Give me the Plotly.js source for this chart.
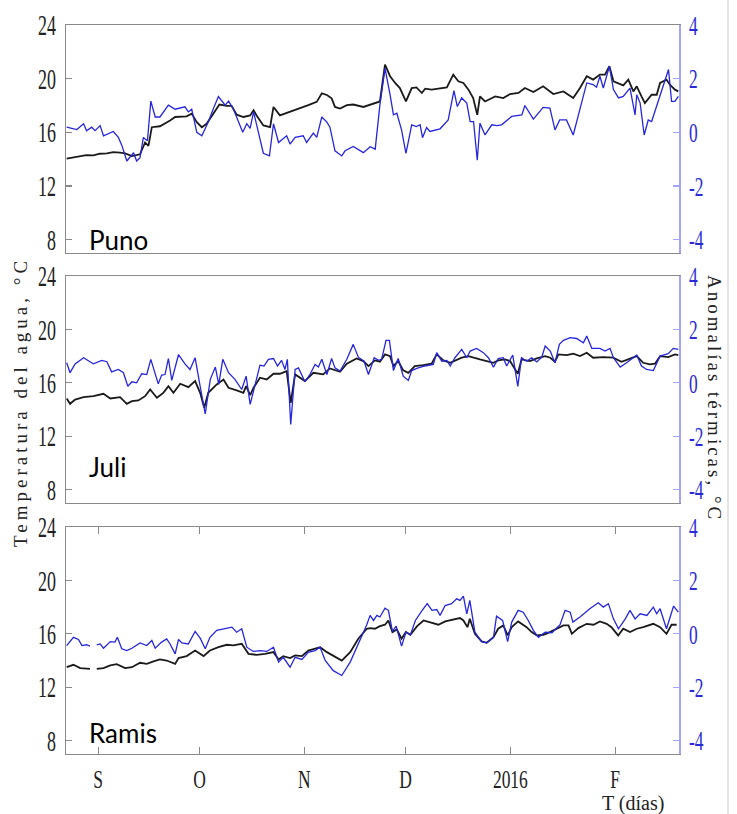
<!DOCTYPE html>
<html>
<head>
<meta charset="utf-8">
<script src="https://cdn.plot.ly/plotly-3.0.1.min.js"></script>
<style>
  html, body { margin: 0; padding: 0; background: #fff; }
  #chart { width: 737px; height: 814px; }
</style>
</head>
<body>
<div id="chart"></div>
<script>
// Day offsets counted from 1 September 2015 (x), value (y)
const punoTemp = [[-9.3,14.03],[-7.5,14.1],[-5.3,14.18],[-3.5,14.3],[-1.4,14.28],[0.5,14.4],[2.6,14.43],[4.5,14.52],[6.5,14.48],[8.0,14.43],[10.0,14.23],[12.4,14.36],[13.9,15.24],[14.9,14.99],[15.9,16.38],[18.3,16.45],[21.3,16.88],[22.8,17.14],[26.2,17.19],[27.7,17.39],[29.2,16.76],[30.7,16.38],[32.1,16.63],[34.1,17.39],[35.9,18.07],[38.1,17.97],[39.5,17.97],[41.0,17.31],[43.0,17.14],[45.0,17.26],[46.0,17.64],[46.9,17.26],[48.9,16.51],[50.9,16.38],[51.9,17.89],[53.8,17.26],[56.8,17.52],[59.8,17.82],[62.2,18.02],[64.7,18.27],[66.2,18.90],[67.7,18.78],[69.1,18.53],[70.1,17.89],[71.6,17.77],[73.6,18.02],[75.5,18.07],[78.5,17.89],[80.5,18.05],[83.4,18.3],[84.9,21.05],[86.4,20.18],[87.9,19.68],[89.3,19.3],[91.1,18.3],[92.8,19.3],[94.2,19.35],[95.8,18.93],[96.8,19.25],[98.7,19.18],[103.2,19.35],[105.1,20.3],[106.6,19.8],[108.1,19.68],[109.6,19.18],[111.0,18.55],[112.2,17.3],[113.0,18.68],[114.5,18.3],[117.5,18.68],[119.9,18.55],[121.9,18.85],[124.4,18.93],[126.3,19.3],[128.8,19.0],[131.7,19.43],[134.7,18.85],[137.7,19.05],[140.6,18.55],[142.6,19.3],[144.6,20.18],[146.5,19.93],[148.5,20.3],[150.0,20.3],[151.3,20.93],[152.5,19.8],[155.4,19.5],[156.9,19.93],[158.4,19.05],[159.4,19.43],[160.8,18.68],[161.8,18.18],[163.8,18.8],[165.3,18.8],[166.3,19.68],[168.2,19.93],[169.2,19.55],[170.7,19.18],[171.7,19.05]];
const punoAnom = [[-9.3,0.19],[-6.3,0.10],[-4.3,0.32],[-3.4,0.06],[-1.9,0.19],[-0.9,0.06],[0.6,0.25],[1.6,-0.13],[4.5,0.03],[6.0,-0.19],[7.0,-0.48],[8.5,-1.07],[10.5,-0.76],[11.4,-1.07],[12.4,-0.95],[13.4,-0.19],[14.6,-0.32],[15.6,1.16],[16.9,0.57],[18.3,0.57],[20.8,1.01],[22.8,0.86],[25.7,0.95],[26.7,0.76],[27.7,0.86],[29.2,0.0],[30.7,-0.13],[32.6,0.38],[34.1,0.88],[35.6,1.33],[37.6,1.01],[38.6,1.16],[40.0,0.88],[41.0,0.57],[42.8,0.0],[44.0,0.32],[45.0,0.15],[46.0,0.76],[47.4,0.06],[48.9,-0.78],[50.7,-0.88],[51.9,0.32],[53.4,-0.38],[55.8,-0.13],[56.8,-0.44],[58.3,-0.19],[60.7,-0.13],[61.7,-0.38],[63.7,-0.03],[64.7,-0.19],[66.2,0.57],[67.7,0.38],[68.6,0.19],[70.1,-0.69],[72.1,-0.88],[73.1,-0.69],[75.5,-0.53],[78.5,-0.76],[80.5,-0.54],[82.0,-0.63],[83.4,1.03],[84.9,2.38],[86.4,1.4],[87.4,0.65],[88.4,0.71],[89.8,0.09],[91.1,-0.79],[92.8,0.28],[94.2,0.21],[95.3,0.28],[96.0,-0.2],[97.2,0.18],[98.2,0.03],[101.2,0.13],[103.6,0.46],[105.3,1.55],[106.3,0.96],[107.6,1.28],[109.1,1.09],[110.1,0.4],[111.1,0.4],[112.2,-1.04],[113.0,0.34],[114.5,-0.1],[116.5,0.28],[118.0,0.25],[119.4,0.28],[122.4,0.59],[125.4,0.65],[126.3,1.0],[128.8,0.49],[131.7,0.93],[133.7,0.9],[135.2,0.09],[136.6,0.46],[138.6,0.46],[140.6,-0.1],[142.6,0.84],[144.6,1.84],[146.5,1.78],[147.5,1.68],[148.5,2.09],[149.5,1.65],[151.3,2.46],[152.5,1.59],[154.0,1.28],[155.4,1.34],[157.4,1.65],[158.9,0.65],[159.4,1.4],[160.4,1.09],[161.6,-0.1],[162.8,0.46],[163.8,0.4],[165.3,0.96],[166.8,1.53],[168.8,2.34],[169.7,1.15],[170.7,1.15],[171.7,1.34]];
const juliTemp = [[-9.3,14.83],[-8.3,14.43],[-6.8,14.75],[-4.3,14.93],[-1.4,15.0],[1.6,15.18],[3.6,14.83],[6.5,14.93],[8.5,14.43],[10.0,14.63],[11.9,14.68],[13.9,15.0],[15.4,15.5],[17.4,14.88],[19.3,15.25],[20.8,15.75],[22.3,15.25],[24.3,15.93],[26.7,15.68],[28.7,16.13],[30.2,15.25],[31.4,14.13],[32.6,15.25],[35.1,15.88],[37.1,16.25],[38.6,15.63],[41.0,15.43],[43.0,15.25],[43.8,15.75],[45.0,15.08],[46.0,15.63],[47.9,16.38],[49.9,16.25],[51.9,16.68],[53.8,16.68],[55.8,16.88],[57.0,14.5],[58.3,16.63],[61.2,16.13],[63.7,16.75],[66.6,16.63],[68.6,17.08],[71.6,16.83],[73.6,17.43],[76.5,17.83],[78.5,17.63],[80.0,17.25],[81.9,17.68],[83.4,17.58],[84.9,18.13],[86.4,18.0],[87.4,17.25],[88.8,17.63],[90.3,16.93],[91.8,16.75],[93.7,17.25],[96.2,17.33],[98.7,17.43],[100.2,18.13],[102.2,17.68],[104.2,17.5],[105.6,17.68],[107.6,17.88],[109.6,18.0],[111.0,17.88],[113.0,17.75],[115.0,17.63],[117.0,17.5],[118.4,17.68],[120.4,17.75],[121.9,17.63],[124.2,16.68],[125.3,17.75],[127.8,17.63],[129.8,17.83],[132.3,18.0],[133.8,17.88],[135.2,17.58],[136.2,18.13],[138.7,18.08],[140.6,18.18],[142.6,18.0],[144.6,18.25],[146.5,17.88],[149.5,17.93],[152.4,17.88],[154.9,17.58],[156.9,17.75],[159.4,18.0],[161.3,17.5],[163.3,17.38],[164.8,17.43],[166.3,18.0],[168.7,17.93],[170.7,18.13],[171.7,18.08]];
const juliAnom = [[-9.3,0.75],[-8.3,0.38],[-6.8,0.71],[-4.3,0.94],[-2.4,0.79],[-1.4,0.71],[1.1,0.84],[2.6,0.79],[4.0,0.41],[6.0,0.5],[7.5,0.38],[8.8,-0.13],[10.0,0.04],[11.4,0.0],[12.9,0.34],[14.4,0.31],[15.6,0.88],[17.8,-0.04],[18.8,0.29],[19.8,0.31],[20.8,0.91],[21.8,0.09],[23.8,1.06],[25.7,0.71],[27.2,0.5],[28.7,0.94],[30.2,-0.13],[31.7,-1.16],[33.2,0.13],[34.7,0.59],[35.7,-0.06],[36.9,0.88],[38.6,0.38],[40.5,0.13],[42.5,-0.25],[43.8,0.25],[45.0,-0.81],[46.4,-0.13],[47.9,0.66],[49.1,0.63],[50.4,0.88],[51.9,0.91],[53.1,0.63],[54.3,0.84],[55.3,0.5],[56.0,0.88],[57.0,-1.56],[58.3,0.5],[59.3,0.56],[61.2,0.04],[62.8,0.34],[64.2,0.69],[65.2,0.59],[66.2,0.88],[67.7,0.31],[69.1,0.91],[70.1,0.56],[71.6,0.44],[73.6,0.88],[75.5,1.44],[77.0,0.96],[78.7,0.81],[80.0,0.31],[81.7,0.94],[83.0,0.84],[83.9,0.88],[85.2,1.59],[86.2,1.59],[87.4,0.46],[88.8,0.91],[90.3,0.25],[91.8,0.09],[92.8,0.46],[94.3,0.54],[96.7,0.63],[99.2,0.69],[100.2,1.13],[101.7,0.81],[103.2,0.84],[104.2,0.63],[105.6,0.94],[107.6,1.25],[109.1,0.94],[110.1,1.19],[112.0,1.29],[114.0,1.13],[115.5,0.94],[117.0,0.59],[118.4,0.91],[119.9,0.94],[120.9,0.63],[122.7,1.04],[124.2,-0.13],[125.3,0.94],[126.8,0.81],[128.3,0.94],[129.8,0.78],[131.3,0.96],[132.3,1.38],[133.8,1.19],[135.2,0.75],[136.5,1.44],[137.7,1.59],[139.7,1.69],[141.6,1.66],[143.6,1.5],[144.6,1.75],[146.1,1.29],[148.5,1.29],[150.0,1.19],[151.5,1.29],[152.5,0.94],[154.5,0.59],[156.4,0.75],[159.4,1.04],[160.8,0.63],[162.3,0.5],[164.3,0.46],[166.3,1.0],[168.7,1.09],[170.2,1.29],[171.7,1.25]];
const ramisTemp = [[-9.3,13.5],[-7.3,13.68],[-5.3,13.43],[-2.4,13.38],[-1.4,null],[-0.4,13.38],[1.6,13.43],[3.6,13.63],[5.5,13.73],[8.0,13.43],[10.0,13.5],[12.4,13.83],[14.4,13.75],[16.4,13.93],[18.3,14.08],[20.3,14.0],[22.8,13.75],[23.8,14.18],[26.2,14.33],[28.7,14.75],[31.2,14.33],[33.1,14.75],[35.6,15.0],[38.1,15.18],[40.0,15.13],[42.5,15.25],[44.5,14.5],[46.9,14.43],[49.4,14.5],[51.9,14.63],[53.4,14.08],[54.8,14.33],[56.8,14.18],[58.3,14.38],[60.3,14.33],[62.2,14.75],[64.2,14.88],[65.7,15.0],[67.7,14.63],[69.6,14.38],[72.1,14.0],[74.6,14.63],[77.0,15.63],[79.5,16.38],[80.5,16.43],[81.9,16.38],[83.4,16.58],[84.9,16.68],[85.9,17.0],[87.1,16.13],[88.4,16.33],[89.8,15.63],[91.1,16.13],[92.4,15.93],[94.4,16.58],[96.3,17.0],[98.8,16.83],[100.7,16.68],[102.7,16.93],[105.1,17.08],[107.1,17.18],[108.1,17.0],[109.3,16.5],[110.0,17.13],[111.5,16.0],[113.5,15.43],[115.0,15.33],[117.0,15.75],[118.4,16.38],[119.9,16.63],[121.2,15.88],[122.4,16.5],[124.3,16.93],[126.8,16.5],[128.3,16.13],[129.8,15.88],[131.8,15.93],[133.7,16.13],[135.7,16.38],[137.7,16.63],[139.2,16.63],[140.2,16.0],[142.1,16.43],[144.6,16.75],[146.6,16.68],[148.5,16.93],[150.5,16.75],[151.9,16.5],[153.9,15.88],[155.4,16.38],[157.4,16.13],[159.4,16.38],[161.3,16.5],[164.3,16.75],[166.3,16.5],[168.2,16.0],[169.7,16.68],[171.2,16.68]];
const ramisAnom = [[-9.3,-0.44],[-7.3,-0.13],[-5.8,-0.21],[-4.8,-0.44],[-3.4,-0.41],[-2.4,-0.46],[-1.4,null],[-0.4,-0.41],[0.6,-0.38],[1.6,-0.54],[3.6,-0.29],[5.0,-0.31],[5.7,-0.13],[7.0,-0.56],[8.5,-0.63],[10.0,-0.54],[12.4,-0.34],[14.4,-0.44],[15.9,-0.25],[16.9,-0.54],[18.8,-0.31],[20.3,-0.19],[21.3,-0.38],[22.8,-0.75],[23.8,-0.21],[24.8,-0.34],[26.7,-0.38],[28.7,0.09],[30.2,-0.16],[31.7,-0.56],[33.1,-0.13],[35.1,0.13],[37.1,0.19],[39.6,0.25],[41.0,0.06],[42.5,0.19],[44.0,-0.5],[45.9,-0.66],[47.9,-0.63],[49.9,-0.66],[51.9,-0.5],[53.4,-1.06],[54.8,-0.88],[56.8,-1.25],[58.3,-0.88],[60.3,-0.96],[62.2,-0.69],[64.2,-0.63],[65.7,-0.5],[67.2,-1.0],[69.6,-1.38],[72.1,-1.56],[74.6,-1.06],[77.0,-0.38],[79.5,0.34],[80.5,0.69],[81.5,0.5],[82.5,0.69],[83.4,0.63],[84.9,0.96],[85.9,0.88],[87.1,0.09],[88.2,0.29],[89.8,-0.46],[91.1,0.06],[92.4,-0.04],[93.9,0.5],[95.9,0.88],[97.4,1.13],[98.8,0.88],[100.2,0.91],[101.2,0.69],[102.7,1.06],[104.6,1.13],[106.1,1.31],[107.1,1.25],[108.1,1.41],[109.1,0.75],[110.0,1.25],[111.5,0.06],[113.5,-0.29],[115.0,-0.34],[117.0,-0.13],[117.9,0.66],[119.7,0.5],[121.2,-0.29],[122.4,0.44],[124.3,0.88],[125.8,0.81],[127.3,0.5],[128.8,0.13],[130.3,-0.13],[132.3,0.06],[134.3,0.04],[136.7,0.34],[138.2,0.88],[139.7,0.81],[140.5,0.44],[142.6,0.63],[145.5,0.94],[148.0,1.16],[149.5,1.0],[151.0,1.13],[152.5,0.56],[154.0,0.19],[156.0,0.56],[157.4,0.88],[158.9,0.56],[160.4,0.75],[162.4,0.69],[164.3,1.0],[165.3,0.75],[166.3,0.94],[168.2,0.19],[170.3,1.04],[171.7,0.81]];

const stations = ['Puno', 'Juli', 'Ramis'];
const monthTickDays = [0, 30, 61, 91, 122, 153];
const monthTickLabels = ['S', 'O', 'N', 'D', '2016', 'F'];
const tempTicks = [8, 12, 16, 20, 24];
const anomTicks = [-4, -2, 0, 2, 4];
const anomTickLabels = ['-4', '-2', '0', '2', '4'];
const labelLevels = [8.0, 9.7, 8.6];

const BLACK = '#1a1a1a', BLUE = '#2626dc', FRAME = '#8a8a8a', RAXIS = '#a3a3ff';
const SERIF = 'Liberation Serif';

const sets = [[punoTemp, punoAnom], [juliTemp, juliAnom], [ramisTemp, ramisAnom]];
const traces = [];
sets.forEach((s, i) => {
  const xa = i === 0 ? 'x' : 'x' + (i + 1);
  const yl = i === 0 ? 'y' : 'y' + (2 * i + 1);
  const yr = 'y' + (2 * i + 2);
  traces.push({x: s[0].map(p => p[0]), y: s[0].map(p => p[1]), xaxis: xa, yaxis: yl,
    type: 'scatter', mode: 'lines', line: {color: BLACK, width: 1.8}, connectgaps: false, hoverinfo: 'skip'});
  traces.push({x: s[1].map(p => p[0]), y: s[1].map(p => p[1]), xaxis: xa, yaxis: yr,
    type: 'scatter', mode: 'lines', line: {color: BLUE, width: 1.3}, connectgaps: false, hoverinfo: 'skip'});
});

const H = 729;
const domains = [[(754 - 253) / H, 1], [(754 - 503) / H, (754 - 276) / H], [0, (754 - 527) / H]];
const layout = {
  width: 737, height: 814,
  margin: {l: 66, r: 58, t: 25, b: 60},
  paper_bgcolor: '#fff', plot_bgcolor: '#fff',
  showlegend: false,
  font: {family: SERIF, color: '#222'},
  annotations: [],
  shapes: []
};
for (let i = 0; i < 3; i++) {
  const xk = i === 0 ? 'xaxis' : 'xaxis' + (i + 1);
  const ylk = i === 0 ? 'yaxis' : 'yaxis' + (2 * i + 1);
  const yrk = 'yaxis' + (2 * i + 2);
  const ylid = i === 0 ? 'y' : 'y' + (2 * i + 1);
  const xid = i === 0 ? 'x' : 'x' + (i + 1);
  const last = i === 2;
  layout[xk] = {
    anchor: ylid, range: [-9.5, 171.9], domain: [0, 1],
    showgrid: false, zeroline: false, showline: true, linecolor: FRAME, linewidth: 1.3,
    mirror: last ? 'ticks' : true,
    ticks: last ? 'inside' : '', ticklen: 7, tickcolor: FRAME, tickwidth: 1.2,
    tickmode: 'array', tickvals: monthTickDays, ticktext: monthTickLabels,
    showticklabels: last, ticklabelstandoff: 3,
    tickfont: {family: SERIF, size: 25, color: '#222'}
  };
  if (i > 0) layout[xk].matches = 'x';
  layout[ylk] = {
    anchor: xid, domain: domains[i], range: [7, 24],
    showgrid: false, zeroline: false, showline: true, linecolor: FRAME, linewidth: 1.3,
    ticks: 'inside', ticklen: 6, tickcolor: FRAME, tickwidth: 1.2,
    tickmode: 'array', tickvals: tempTicks, ticklabelstandoff: 3,
    tickfont: {family: SERIF, size: 29, color: '#222'}
  };
  layout[yrk] = {
    anchor: xid, overlaying: ylid, side: 'right', range: [-4.5, 4],
    showgrid: false, zeroline: false, showline: true, linecolor: RAXIS, linewidth: 1.5,
    ticks: 'inside', ticklen: 6, tickcolor: RAXIS, tickwidth: 1.2,
    tickmode: 'array', tickvals: anomTicks, ticktext: anomTickLabels, ticklabelstandoff: 3,
    tickfont: {family: SERIF, size: 28, color: '#2a2ad6'}
  };
  layout.annotations.push({
    xref: xid, yref: ylid, x: -3.4, y: labelLevels[i], xanchor: 'left', yanchor: 'middle',
    text: stations[i], showarrow: false,
    font: {family: 'Lato', size: 26, color: '#000'}
  });
}
layout.annotations.unshift(
  {xref: 'paper', yref: 'paper', x: (715 - 66) / 613, y: (754 - 398) / H, xanchor: 'center', yanchor: 'middle',
   text: 'Anomalías térmicas, °C', textangle: 90, showarrow: false,
   font: {family: SERIF, size: 19, color: '#222'}}
);
layout.annotations.unshift(
  {xref: 'paper', yref: 'paper', x: (20 - 66) / 613, y: (754 - 402) / H, xanchor: 'center', yanchor: 'middle',
   text: 'Temperatura del agua, °C', textangle: -90, showarrow: false,
   font: {family: SERIF, size: 19, color: '#222'}}
);
layout.annotations.push(
  {xref: 'paper', yref: 'paper', x: (633 - 66) / 613, y: (754 - 803) / H, xanchor: 'center', yanchor: 'middle',
   text: 'T (días)', showarrow: false, borderpad: 0, font: {family: SERIF, size: 20, color: '#222'}}
);
layout.shapes.push({type: 'line', xref: 'paper', yref: 'paper',
  x0: (728 - 66) / 613, x1: (728 - 66) / 613, y0: -0.09, y1: 1.04,
  line: {color: '#dcdcdc', width: 1.5}});

Plotly.newPlot('chart', traces, layout, {staticPlot: true, displayModeBar: false}).then(gd => {
  // condensed look of the tick numbers
  gd.querySelectorAll('g.xtick text, g.x2tick text, g.x3tick text').forEach(t => {
    const x = parseFloat(t.getAttribute('x')) || 0;
    const tr = t.getAttribute('transform') || '';
    t.setAttribute('transform', tr + ' translate(' + x + ',0) scale(0.7,1) translate(' + (-x) + ',0)');
  });
  gd.querySelectorAll('g.ytick text, g.y2tick text, g.y3tick text, g.y4tick text, g.y5tick text, g.y6tick text').forEach(t => {
    const x = parseFloat(t.getAttribute('x')) || 0;
    const tr = t.getAttribute('transform') || '';
    t.setAttribute('transform', tr + ' translate(' + x + ',0) scale(0.62,1) translate(' + (-x) + ',0)');
  });
  // spaced-out side titles
  ['0', '1'].forEach(k => {
    gd.querySelectorAll('g.annotation[data-index="' + k + '"] text').forEach(t => {
      t.style.letterSpacing = k === '0' ? '4px' : '3px';
    });
  });
});
</script>
</body>
</html>
